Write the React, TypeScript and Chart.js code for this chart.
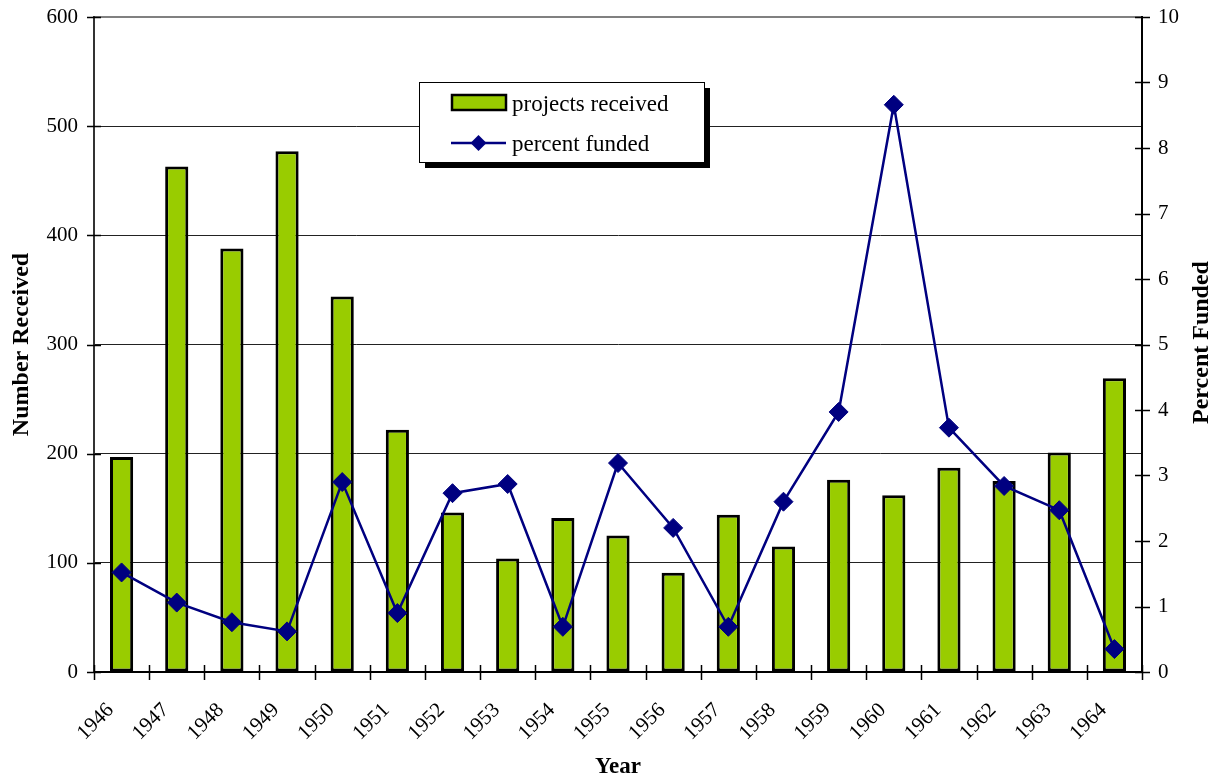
import React, { useEffect, useRef } from "react";
import { Chart, registerables } from "chart.js";

Chart.register(...registerables);

const years = [
  "1946", "1947", "1948", "1949", "1950", "1951", "1952", "1953", "1954", "1955",
  "1956", "1957", "1958", "1959", "1960", "1961", "1962", "1963", "1964",
];

const projectsReceived = [
  197, 463, 388, 477, 344, 222, 146, 104, 141, 125,
  91, 144, 115, 176, 162, 187, 175, 201, 269,
];

const percentFunded = [
  1.52, 1.06, 0.76, 0.62, 2.9, 0.9, 2.73, 2.87, 0.69, 3.19,
  2.2, 0.69, 2.6, 3.97, 8.66, 3.73, 2.84, 2.47, 0.35,
];

const leftTicks = [0, 100, 200, 300, 400, 500, 600];
const rightTicks = [0, 1, 2, 3, 4, 5, 6, 7, 8, 9, 10];

const SERIF = "'Liberation Serif', 'Times New Roman', Times, serif";
const BAR_GREEN = "#99CC00";
const NAVY = "#000080";

const W = 1220;
const H = 783;
const AREA = { left: 94, right: 1142, top: 17, bottom: 672 };

// Tick marks that cross the axis lines, axis titles and the boxed legend.
const decorations = {
  id: "decorations",
  afterDraw(chart: any) {
    const ctx = chart.ctx as CanvasRenderingContext2D;
    const x = chart.scales.x;
    const y = chart.scales.y;
    const y1 = chart.scales.y1;

    ctx.save();
    ctx.strokeStyle = "#000";
    ctx.lineWidth = 1.5;
    ctx.beginPath();
    leftTicks.forEach((v) => {
      const p = Math.round(y.getPixelForValue(v)) + 0.5;
      ctx.moveTo(y.right - 7, p);
      ctx.lineTo(y.right + 7, p);
    });
    rightTicks.forEach((v) => {
      const p = Math.round(y1.getPixelForValue(v)) + 0.5;
      ctx.moveTo(y1.left - 7, p);
      ctx.lineTo(y1.left + 8, p);
    });
    for (let i = 0; i <= years.length; i++) {
      const p = Math.round(x.getPixelForValue(i - 0.5)) + 0.5;
      ctx.moveTo(p, x.top - 7);
      ctx.lineTo(p, x.top + 8);
    }
    ctx.stroke();

    // axis titles
    ctx.fillStyle = "#000";
    ctx.font = `bold 24px ${SERIF}`;
    ctx.textAlign = "center";
    ctx.textBaseline = "middle";
    const midY = (chart.chartArea.top + chart.chartArea.bottom) / 2;
    ctx.save();
    ctx.translate(22, midY);
    ctx.rotate(-Math.PI / 2);
    ctx.fillText("Number Received", 0, 0);
    ctx.restore();
    ctx.save();
    ctx.translate(1202, midY - 2);
    ctx.rotate(-Math.PI / 2);
    ctx.fillText("Percent Funded", 0, 0);
    ctx.restore();
    ctx.font = `bold 23px ${SERIF}`;
    ctx.fillText("Year", (chart.chartArea.left + chart.chartArea.right) / 2, 767);

    // legend box with drop shadow
    const bx = 419, by = 82, bw = 285, bh = 80;
    ctx.fillStyle = "#000";
    ctx.fillRect(bx + 6, by + 6, bw, bh);
    ctx.fillStyle = "#fff";
    ctx.fillRect(bx, by, bw, bh);
    ctx.strokeStyle = "#000";
    ctx.lineWidth = 1;
    ctx.strokeRect(bx + 0.5, by + 0.5, bw, bh);

    ctx.fillStyle = BAR_GREEN;
    ctx.fillRect(452, 95, 54, 15);
    ctx.lineWidth = 2.5;
    ctx.strokeRect(452, 95, 54, 15);

    ctx.strokeStyle = NAVY;
    ctx.lineWidth = 2.5;
    ctx.beginPath();
    ctx.moveTo(451, 143);
    ctx.lineTo(506, 143);
    ctx.stroke();
    ctx.fillStyle = NAVY;
    ctx.beginPath();
    ctx.moveTo(478.5, 135);
    ctx.lineTo(486.5, 143);
    ctx.lineTo(478.5, 151);
    ctx.lineTo(470.5, 143);
    ctx.closePath();
    ctx.fill();

    ctx.fillStyle = "#000";
    ctx.font = `23px ${SERIF}`;
    ctx.textAlign = "left";
    ctx.textBaseline = "alphabetic";
    ctx.fillText("projects received", 512, 111);
    ctx.fillText("percent funded", 512, 151);
    ctx.restore();
  },
};

export default function App() {
  const canvasRef = useRef<HTMLCanvasElement | null>(null);

  useEffect(() => {
    document.body.style.margin = "0";
    const canvas = canvasRef.current;
    if (!canvas) return;

    const chart = new Chart(canvas, {
      data: {
        labels: years,
        datasets: [
          {
            type: "line",
            label: "percent funded",
            data: percentFunded,
            yAxisID: "y1",
            borderColor: NAVY,
            backgroundColor: NAVY,
            borderWidth: 2.5,
            pointStyle: "rectRot",
            pointRadius: 9.5,
            pointBorderWidth: 1,
            pointBackgroundColor: NAVY,
            pointBorderColor: NAVY,
            tension: 0,
            order: 0,
          },
          {
            type: "bar",
            label: "projects received",
            data: projectsReceived,
            yAxisID: "y",
            backgroundColor: BAR_GREEN,
            borderColor: "#000",
            borderWidth: 3,
            borderSkipped: false,
            barPercentage: 0.42,
            categoryPercentage: 1,
            order: 1,
          },
        ],
      } as any,
      options: {
        responsive: false,
        animation: false,
        devicePixelRatio: 1,
        layout: { padding: { top: AREA.top, left: 0, right: 0, bottom: 0 } },
        plugins: {
          legend: { display: false },
          tooltip: { enabled: false },
        },
        scales: {
          x: {
            type: "category",
            offset: true,
            afterFit: (s: any) => {
              s.height = H - AREA.bottom;
              s.paddingLeft = 0;
              s.paddingRight = 0;
            },
            grid: { display: true, drawOnChartArea: false, drawTicks: false, color: "transparent" },
            border: { display: true, color: "#000", width: 2 },
            ticks: {
              autoSkip: false,
              minRotation: 45,
              maxRotation: 45,
              padding: 26,
              labelOffset: -11,
              color: "#000",
              font: { family: SERIF, size: 21 },
            },
          },
          y: {
            type: "linear",
            position: "left",
            min: 0,
            max: 600,
            afterFit: (s: any) => {
              s.width = AREA.left;
              s.paddingTop = 0;
              s.paddingBottom = 0;
            },
            afterBuildTicks: (s: any) => {
              s.ticks = leftTicks.map((v) => ({ value: v }));
            },
            grid: {
              drawTicks: false,
              color: (c: any) => (c.tick && c.tick.value === 600 ? "#808080" : c.tick && c.tick.value === 0 ? "transparent" : "#222"),
              lineWidth: (c: any) => (c.tick && c.tick.value === 600 ? 2 : 1),
            },
            border: { display: true, color: "#333", width: 2 },
            ticks: {
              padding: 16,
              color: "#000",
              font: { family: SERIF, size: 21 },
            },
          },
          y1: {
            type: "linear",
            position: "right",
            min: 0,
            max: 10,
            afterFit: (s: any) => {
              s.width = W - AREA.right;
              s.paddingTop = 0;
              s.paddingBottom = 0;
            },
            afterBuildTicks: (s: any) => {
              s.ticks = rightTicks.map((v) => ({ value: v }));
            },
            grid: { drawOnChartArea: false, drawTicks: false },
            border: { display: true, color: "#000", width: 2 },
            ticks: {
              padding: 16,
              color: "#000",
              font: { family: SERIF, size: 21 },
            },
          },
        },
      } as any,
      plugins: [decorations],
    });

    return () => {
      chart.destroy();
    };
  }, []);

  return (
    <div style={{ width: W, height: H, background: "#fff" }}>
      <canvas ref={canvasRef} width={W} height={H} style={{ display: "block" }} />
    </div>
  );
}
